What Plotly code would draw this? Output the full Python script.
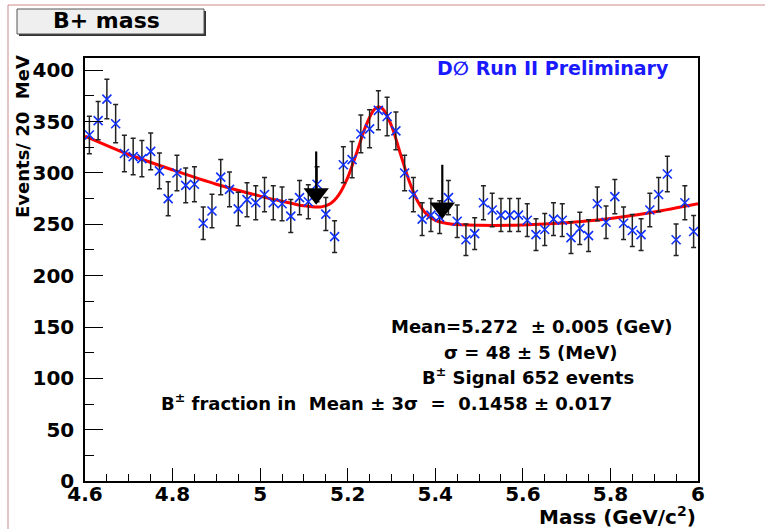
import numpy as np
import plotly.graph_objects as go

# ---------------- data ----------------
bin_lo, bin_width, n_bins = 4.60, 0.02, 70
mass_centers = [round(bin_lo + bin_width * (i + 0.5), 3) for i in range(n_bins)]
events = [337, 351, 372, 348, 319, 316, 314, 321, 302, 275,
          300, 288, 289, 251, 263, 296, 284, 265, 274, 271,
          279, 271, 270, 258, 276, 272, 289, 260, 238, 308,
          313, 338, 343, 361, 355, 341, 300, 279, 255, 259,
          257, 276, 253, 235, 241, 271, 264, 259, 259, 259,
          254, 240, 245, 255, 254, 237, 246, 239, 270, 252,
          277, 251, 244, 240, 264, 279, 299, 235, 271, 243]
event_err = list(np.sqrt(events))

# fit curve
fit_x = [4.60, 4.70, 4.80, 4.90, 5.00, 5.05, 5.10, 5.14, 5.16, 5.18,
         5.20, 5.22, 5.24, 5.26, 5.27, 5.28, 5.30, 5.32, 5.34, 5.36,
         5.38, 5.40, 5.44, 5.50, 5.60, 5.70, 5.80, 5.90, 6.00]
fit_y = [336, 318, 303, 289, 277.5, 272.5, 268, 267, 270, 279,
         295.5, 319, 344.5, 361.5, 364.3, 362.4, 346, 319.3, 292.5, 272.2,
         259.9, 253.9, 250, 249, 249.3, 251.5, 255.6, 262, 270]

# Mean +/- 3 sigma arrows
arrow_x = [5.128, 5.416]
arrow_top = [321, 308]
arrow_tip = [269, 255]

x_ticks = [4.6, 4.8, 5.0, 5.2, 5.4, 5.6, 5.8, 6.0]
x_tick_text = ["4.6", "4.8", "5", "5.2", "5.4", "5.6", "5.8", "6"]
y_ticks = [0, 50, 100, 150, 200, 250, 300, 350, 400]

# ---------------- layout geometry ----------------
W, H = 765, 529
L, R, T, B = 85, 67, 58, 48
PW, PH = W - L - R, H - T - B
YMAX = 412


def px(xp):
    return (xp - L) / PW


def py(yp):
    return (H - B - yp) / PH


FONT = "DejaVu Sans, Arial"

fig = go.Figure()

fig.add_trace(go.Scatter(
    x=fit_x, y=fit_y, mode="lines",
    line=dict(color="#ff0000", width=3, shape="spline", smoothing=0.8),
    hoverinfo="skip", showlegend=False))

fig.add_trace(go.Scatter(
    x=mass_centers, y=events, mode="markers",
    marker=dict(symbol="x-thin", size=9, color="#1030ff",
                line=dict(color="#1030ff", width=1.6)),
    error_y=dict(type="data", array=event_err, visible=True,
                 color="#222222", thickness=1.5, width=2.5),
    showlegend=False))

# arrows
for xa, yt, yb in zip(arrow_x, arrow_top, arrow_tip):
    fig.add_trace(go.Scatter(x=[xa, xa], y=[yt, yb + 8], mode="lines",
                             line=dict(color="black", width=2.2),
                             hoverinfo="skip", showlegend=False))
    fig.add_trace(go.Scatter(x=[xa], y=[yb + 10.8], mode="markers",
                             marker=dict(symbol="triangle-down", size=22,
                                         color="black", line=dict(width=0)),
                             hoverinfo="skip", showlegend=False))

axis_common = dict(showline=True, linecolor="black", linewidth=1.5,
                   mirror=True, showgrid=False, zeroline=False,
                   ticks="inside", tickcolor="black", tickwidth=1.2,
                   tickfont=dict(family=FONT, size=20, color="black", weight="bold"))

fig.update_xaxes(range=[4.6, 6.0], tickvals=x_ticks, ticktext=x_tick_text,
                 ticklen=13, ticklabelstandoff=-6,
                 minor=dict(dtick=0.05, ticklen=7, tickcolor="black", ticks="inside", tickwidth=1.2),
                 **axis_common)
fig.update_yaxes(range=[0, YMAX], tickvals=y_ticks, ticklen=18, ticklabelstandoff=5,
                 minor=dict(dtick=25, ticklen=9, tickcolor="black", ticks="inside", tickwidth=1.2),
                 **axis_common)

shapes = [
    # canvas borders
    dict(type="line", xref="paper", yref="paper", x0=px(8), x1=px(8), y0=py(5), y1=py(H),
         line=dict(color="#d08a8a", width=1)),
    dict(type="line", xref="paper", yref="paper", x0=px(8), x1=px(W), y0=py(5), y1=py(5),
         line=dict(color="#d08a8a", width=1)),
    # title box shadow + box
    dict(type="rect", xref="paper", yref="paper", x0=px(19), x1=px(206), y0=py(36), y1=py(11),
         fillcolor="#333333", line=dict(width=0)),
    dict(type="rect", xref="paper", yref="paper", x0=px(17), x1=px(204), y0=py(34), y1=py(9),
         fillcolor="#efefef", line=dict(color="#555555", width=1)),
]

ann = []


def text(s, xp, yp, size, color="black", xanchor="center", angle=0):
    ann.append(dict(text=s, x=px(xp), y=py(yp), xref="paper", yref="paper",
                    xanchor=xanchor, yanchor="middle", showarrow=False, textangle=angle,
                    font=dict(family=FONT, size=size, color=color, weight="bold")))


text("B+ mass", 106, 21, 22)
text("D\u2205 Run II Preliminary", 553, 68, 19, color="#1a1aff")
text("Mean=5.272 &nbsp;\u00b1 0.005 (GeV)", 532, 326, 18)
text("\u03c3 = 48 \u00b1 5 (MeV)", 531, 352, 18)
text("B<sup>\u00b1</sup> Signal 652 events", 528, 376, 18)
text("B<sup>\u00b1</sup> fraction in &nbsp;Mean \u00b1 3\u03c3 &nbsp;= &nbsp;0.1458 \u00b1 0.017", 386, 402, 18)
text("Mass (GeV/c<sup>2</sup>)", 698, 516, 20, xanchor="right")
text("Events/ 20 &nbsp;MeV", 22, 137, 18, angle=-90)

fig.update_layout(width=W, height=H, margin=dict(l=L, r=R, t=T, b=B),
                  paper_bgcolor="white", plot_bgcolor="white",
                  shapes=shapes, annotations=ann, showlegend=False)

fig.write_html("out.html", config={"displayModeBar": False},
               post_script="document.body.style.margin='0px';")
